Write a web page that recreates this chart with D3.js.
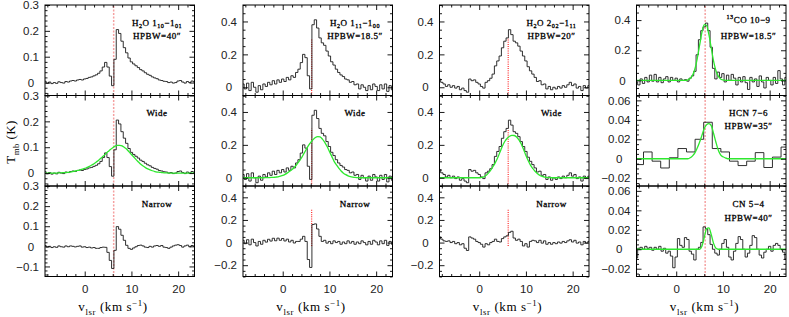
<!DOCTYPE html>
<html><head><meta charset="utf-8">
<script src="https://cdn.jsdelivr.net/npm/d3@7/dist/d3.min.js"></script>
<style>html,body{margin:0;padding:0;background:#fff;} svg{display:block;}</style>
</head><body>
<svg id="chart" width="789" height="317"></svg>
<script>
// ================= DATA =================
// channel velocities (km/s)
const vel = [-8.5,-8,-7.5,-7,-6.5,-6,-5.5,-5,-4.5,-4,
 -3.5,-3,-2.5,-2,-1.5,-1,-0.5,0,0.5,1,
 1.5,2,2.5,3,3.5,4,4.5,5,5.5,6,
 6.5,7,7.5,8,8.5,9,9.5,10,10.5,11,
 11.5,12,12.5,13,13.5,14,14.5,15,15.5,16,
 16.5,17,17.5,18,18.5,19,19.5,20,20.5,21,
 21.5,22,22.5,23,23.5];

// H2O 1_10-1_01 observed, wide-component fit, narrow residual
const h2o557 = [0.005,-0.003,0.002,-0.004,0.0,-0.003,0.003,0.0,-0.002,0.004,
 0.002,0.006,0.008,0.006,0.01,0.012,0.01,0.014,0.016,0.02,
 0.022,0.026,0.03,0.036,0.045,0.06,0.078,0.06,0.025,-0.012,
 0.09,0.205,0.19,0.16,0.135,0.115,0.095,0.08,0.072,0.065,
 0.058,0.05,0.045,0.038,0.032,0.028,0.022,0.018,0.015,0.01,
 0.008,0.005,0.004,0.0,0.002,-0.002,0.0,0.006,0.008,0.002,
 -0.002,0.004,0.0,0.006,0.002];
const fit557 = [0,0,0,0,0,0,0.001,0.001,0.002,0.002,
 0.003,0.004,0.006,0.008,0.01,0.012,0.015,0.018,0.022,0.026,
 0.031,0.036,0.043,0.05,0.058,0.066,0.075,0.083,0.091,0.098,
 0.104,0.107,0.107,0.105,0.099,0.092,0.082,0.072,0.062,0.052,
 0.043,0.034,0.027,0.021,0.016,0.012,0.009,0.006,0.004,0.003,
 0.002,0.001,0.001,0,0,0,0,0,0,0,
 0,0,0,0,0];
const nar557 = [0.004,-0.004,0.0,-0.006,-0.002,-0.005,0.002,-0.002,-0.004,0.002,
 -0.002,0.002,0.0,-0.003,0.0,0.002,-0.004,-0.002,-0.006,-0.004,
 -0.008,-0.006,-0.01,-0.01,-0.006,-0.004,-0.005,-0.03,-0.07,-0.11,
 -0.02,0.098,0.085,0.055,0.03,0.005,-0.01,-0.015,-0.008,-0.002,
 0.004,0.006,0.002,-0.004,-0.006,0.0,-0.004,0.002,0.004,0.0,
 0.004,-0.004,-0.006,-0.01,-0.004,0.002,0.006,0.008,0.004,-0.004,
 0.002,0.006,-0.002,0.004,0.0];

// H2O 1_11-0_00
const h2o1113 = [0.02,-0.01,0.025,-0.02,0.03,0.0,-0.03,0.01,-0.015,0.02,
 0.005,0.03,0.015,0.04,0.02,0.045,0.03,0.05,0.035,0.06,
 0.045,0.07,0.06,0.09,0.11,0.15,0.2,0.18,0.07,-0.01,
 0.38,0.41,0.36,0.3,0.27,0.255,0.22,0.19,0.155,0.135,
 0.11,0.09,0.075,0.065,0.05,0.045,0.03,0.035,0.015,0.02,
 -0.01,0.015,0.0,-0.02,0.01,-0.015,0.02,0.005,-0.02,0.015,
 -0.01,0.02,-0.025,0.01,-0.015];
const fit1113 = [0,0,0,0,0,0,0,0,0,0,
 0.001,0.001,0.002,0.002,0.004,0.006,0.01,0.014,0.021,0.03,
 0.04,0.05,0.064,0.08,0.1,0.12,0.145,0.17,0.195,0.215,
 0.232,0.245,0.25,0.248,0.235,0.215,0.19,0.16,0.13,0.1,
 0.078,0.058,0.041,0.028,0.019,0.012,0.007,0.004,0.002,0.001,
 0,0,0,0,0,0,0,0,0,0,
 0,0,0,0,0];
const nar1113 = [0.02,-0.01,0.025,-0.02,0.03,0.0,-0.03,0.01,-0.015,0.02,
 0.004,0.029,0.013,0.038,0.016,0.039,0.02,0.036,0.014,0.03,
 0.005,0.02,-0.004,0.01,0.01,0.03,0.055,0.01,-0.15,-0.22,
 0.16,0.165,0.12,0.055,0.01,0.02,-0.005,0.01,-0.01,0.015,
 0.0,0.01,-0.015,0.005,-0.01,0.015,-0.005,0.01,-0.015,0.005,
 -0.01,0.015,0.0,-0.02,0.01,-0.015,0.02,0.005,-0.02,0.015,
 -0.01,0.02,-0.025,0.01,-0.015];

// H2O 2_02-1_11
const h2o988 = [0.05,0.03,0.02,0.005,0.015,0.0,0.01,-0.005,0.005,-0.015,
 -0.005,-0.02,-0.03,0.05,0.04,0.045,0.03,0.02,0.005,-0.005,
 0.03,0.04,0.055,0.08,0.13,0.16,0.19,0.24,0.28,0.3,
 0.35,0.32,0.28,0.27,0.25,0.22,0.19,0.16,0.125,0.1,
 0.08,0.06,0.035,0.04,0.015,0.02,-0.01,0.005,-0.015,0.0,
 -0.01,0.005,-0.005,0.01,0.0,0.015,0.03,0.01,0.02,-0.005,
 0.005,-0.02,0.01,-0.005,0.01];
const fit988 = [0,0,0,0,0,0,0,0,0,0,
 0,0,0,0,0,0,0,0,0.002,0.005,
 0.015,0.03,0.048,0.07,0.095,0.125,0.16,0.195,0.222,0.24,
 0.252,0.258,0.257,0.248,0.23,0.205,0.172,0.135,0.103,0.075,
 0.055,0.038,0.024,0.014,0.008,0.004,0.002,0.001,0,0,
 0,0,0,0,0,0,0,0,0,0,
 0,0,0,0,0];
const nar988 = [0.05,0.03,0.015,0.01,0.015,0.0,0.01,-0.01,0.0,-0.02,
 -0.01,-0.05,-0.07,0.05,0.04,0.03,0.01,0.0,-0.015,-0.04,
 -0.01,-0.02,0.0,0.01,0.03,0.01,0.005,0.035,0.05,0.06,
 0.09,0.1,0.04,0.02,0.03,0.01,-0.03,-0.01,-0.04,0.01,
 0.02,0.015,0.0,0.02,-0.005,0.015,-0.015,0.0,-0.015,0.0,
 -0.01,0.005,-0.005,0.01,0.0,0.015,0.025,0.005,0.02,-0.005,
 0.005,-0.02,0.01,-0.005,0.01];

// 13CO 10-9
const co13 = [-0.01,-0.03,0.01,-0.02,0.02,-0.01,0.035,-0.005,0.04,-0.01,
 0.02,-0.015,0.01,0.025,-0.01,0.02,0.0,0.015,-0.01,0.01,
 0.0,0.005,-0.005,0.015,0.03,0.06,0.17,0.27,0.33,0.355,
 0.38,0.33,0.22,0.08,0.01,0.055,0.02,0.045,-0.01,0.035,
 0.0,0.04,0.015,-0.03,0.02,-0.01,0.025,-0.015,-0.06,0.02,
 -0.01,0.01,-0.04,0.03,-0.01,-0.05,0.02,0.0,-0.03,0.02,
 -0.02,0.065,0.01,-0.03,0.02];
const fit13co = [0,0,0,0,0,0,0,0,0,0,
 0,0,0,0,0,0,0,0,0,0,
 0,0,0.004,0.013,0.034,0.076,0.145,0.232,0.318,0.37,
 0.364,0.303,0.215,0.128,0.065,0.028,0.01,0.003,0,0,
 0,0,0,0,0,0,0,0,0,0,
 0,0,0,0,0,0,0,0,0,0,
 0,0,0,0,0];

// HCN 7-6 (coarse channels)
const hcnVel = [-7.92,-6.08,-4.24,-2.4,-0.56,1.28,3.12,4.96,6.8,8.64,10.48,12.32,14.16,16.0,17.84,19.68,21.52,23.36];
const hcn = [-0.006,0.007,-0.0025,-0.0095,0.001,0.0105,0.007,0.020,0.0375,0.0105,0.007,-0.0025,-0.007,-0.0025,0.0063,-0.009,0.0017,0.012];
const fitHCN = [0,0,0,0,0,0,0,0,0,0,
 0,0,0,0,0,0,0,0,0,0,
 0,0,0,0.001,0.003,0.006,0.011,0.017,0.024,0.031,
 0.035,0.036,0.034,0.026,0.017,0.009,0.004,0.002,0.001,0,
 0,0,0,0,0,0,0,0,0,0,
 0,0,0,0,0,0,0,0,0,0,
 0,0,0,0,0];

// CN 5-4
const cn54 = [-0.009,0.001,0.002,0.0,0.003,0.001,0.002,-0.001,0.002,0.0,
 0.003,-0.002,0.001,-0.004,-0.002,-0.007,-0.019,-0.008,0.011,0.004,
 0.002,0.012,0.01,-0.002,-0.005,-0.011,0.0,0.002,0.007,0.023,
 0.021,0.015,0.005,0.0,-0.004,-0.006,0.0,0.006,0.01,0.002,
 -0.008,-0.011,-0.002,0.006,0.013,0.01,0.0,-0.008,-0.004,0.004,
 0.014,0.012,0.0,-0.006,-0.009,-0.003,0.0,0.003,-0.002,0.004,
 0.006,0.004,0.0,-0.003,-0.01];
const fitCN = [0,0,0,0,0,0,0,0,0,0,
 0,0,0,0,0,0,0,0,0,0,
 0,0,0,0,0,0,0,0,0.003,0.012,
 0.021,0.022,0.015,0.006,0.001,0,0,0,0,0,
 0,0,0,0,0,0,0,0,0,0,
 0,0,0,0,0,0,0,0,0,0,
 0,0,0,0,0];

const xTickLabels = [0, 10, 20];
const vSys = 6.2;

// ================= LAYOUT =================
const colLeft = [45, 243, 439.5, 636.5];
const panelW = 149.5;
const rowTop = [5, 95.5, 186];
const panelH = 90.5;
const xDomain = [-8.5, 23.5];
const sans = "'Liberation Sans', Arial, sans-serif";
const serif = "'Liberation Serif', 'Times New Roman', serif";

[h2o557,fit557,nar557,h2o1113,fit1113,nar1113,h2o988,fit988,nar988,co13,fit13co,fitHCN,cn54,fitCN].forEach((a,i)=>{
  if (a.length !== vel.length) throw new Error("length mismatch in array " + i + ": " + a.length);
});

const T = s => ({t:s});
const SUB = s => ({t:s, sub:true});
const SUP = s => ({t:s, sup:true});

const specs = [
 {c:0,r:0, v:vel, y:h2o557, yd:[-0.05,0.3], maj:0.1, mn:0.02, red:null, redStyle:"light",
  text:[{p:[T("H"),SUB("2"),T("O 1"),SUB("10"),T("\u22121"),SUB("01")], dy:20.5},{p:[T("HPBW=40\u2033")], dy:33.5}]},
 {c:0,r:1, v:vel, y:h2o557, fit:fit557, yd:[-0.05,0.3], maj:0.1, mn:0.02, red:null, redStyle:"light",
  text:[{p:[T("Wide")], dy:20.5}]},
 {c:0,r:2, v:vel, y:nar557, yd:[-0.15,0.3], maj:0.1, mn:0.02, red:null, redStyle:"light",
  text:[{p:[T("Narrow")], dy:20.5}]},
 {c:1,r:0, v:vel, y:h2o1113, yd:[-0.05,0.5], maj:0.2, mn:0.05, red:[-0.05,0.29], redStyle:"strong",
  text:[{p:[T("H"),SUB("2"),T("O 1"),SUB("11"),T("\u22121"),SUB("00")], dy:20.5},{p:[T("HPBW=18.5\u2033")], dy:33.5}]},
 {c:1,r:1, v:vel, y:h2o1113, fit:fit1113, yd:[-0.05,0.5], maj:0.2, mn:0.05, red:[-0.05,0.3], redStyle:"strong",
  text:[{p:[T("Wide")], dy:20.5}]},
 {c:1,r:2, v:vel, y:nar1113, yd:[-0.3,0.5], maj:0.2, mn:0.05, red:[-0.03,0.3], redStyle:"strong",
  text:[{p:[T("Narrow")], dy:20.5}]},
 {c:2,r:0, v:vel, y:h2o988, yd:[-0.05,0.5], maj:0.2, mn:0.05, red:[-0.05,0.3], redStyle:"strong",
  text:[{p:[T("H"),SUB("2"),T("O 2"),SUB("02"),T("\u22121"),SUB("11")], dy:20.5},{p:[T("HPBW=20\u2033")], dy:33.5}]},
 {c:2,r:1, v:vel, y:h2o988, fit:fit988, yd:[-0.05,0.5], maj:0.2, mn:0.05, red:[-0.05,0.3], redStyle:"strong",
  text:[{p:[T("Wide")], dy:20.5}]},
 {c:2,r:2, v:vel, y:nar988, yd:[-0.3,0.5], maj:0.2, mn:0.05, red:[-0.03,0.3], redStyle:"strong",
  text:[{p:[T("Narrow")], dy:20.5}]},
 {c:3,r:0, v:vel, y:co13, fit:fit13co, yd:[-0.1,0.5], maj:0.2, mn:0.05, red:null, redStyle:"light",
  text:[{p:[SUP("13"),T("CO 10\u22129")], dy:17.5},{p:[T("HPBW=18.5\u2033")], dy:33.5}]},
 {c:3,r:1, v:hcnVel, y:hcn, fit:fitHCN, yd:[-0.028,0.065], maj:0.02, mn:0.005, red:null, redStyle:"light",
  text:[{p:[T("HCN 7\u22126")], dy:20.5},{p:[T("HPBW=35\u2033")], dy:33.5}]},
 {c:3,r:2, v:vel, y:cn54, fit:fitCN, yd:[-0.028,0.065], maj:0.02, mn:0.005, red:null, redStyle:"light",
  text:[{p:[T("CN 5\u22124")], dy:20.5},{p:[T("HPBW=40\u2033")], dy:34.5}]}
];

const svg = d3.select("#chart");

function ticksFor(domain, step) {
  const a = Math.ceil(domain[0]/step - 1e-6), b = Math.floor(domain[1]/step + 1e-6);
  return d3.range(a, b+1).map(k => +(k*step).toFixed(6));
}
function fmt(v) {
  if (Math.abs(v) < 1e-9) return "0";
  return (v < 0 ? "\u2212" : "") + String(+Math.abs(v).toFixed(4));
}
function measure(str, size, family) {
  const t = svg.append("text").attr("font-size", size).attr("font-family", family).text(str);
  const w = t.node().getComputedTextLength(); t.remove(); return w;
}
function stepPoints(vs, ys) {
  const pts = [];
  for (let i = 0; i < vs.length; i++) {
    const l = i === 0 ? vs[0] - (vs[1]-vs[0])/2 : (vs[i-1]+vs[i])/2;
    const r = i === vs.length-1 ? vs[i] + (vs[i]-vs[i-1])/2 : (vs[i]+vs[i+1])/2;
    pts.push([l, ys[i]], [r, ys[i]]);
  }
  return pts;
}
function rich(g, x, y, parts, size, family, weight, anchor, ls, sw) {
  const t = g.append("text").attr("x", x).attr("y", y).attr("text-anchor", anchor || "middle")
    .attr("font-family", family).attr("font-size", size).attr("font-weight", weight || "normal")
    .attr("letter-spacing", ls || 0).attr("fill", "#000");
  if (sw) t.attr("stroke", "#000").attr("stroke-width", sw);
  let shift = 0;
  parts.forEach(p => {
    const target = p.sub ? size*0.32 : p.sup ? -size*0.42 : 0;
    const ts = t.append("tspan").text(p.t).attr("dy", target - shift);
    if (p.sub || p.sup) ts.attr("font-size", size*0.68);
    shift = target;
  });
  return t;
}

const tickFont = 11.5;

specs.forEach((s, idx) => {
  const g = svg.append("g").attr("transform", `translate(${colLeft[s.c]},${rowTop[s.r]})`);
  const x = d3.scaleLinear(xDomain, [0, panelW]);
  const y = d3.scaleLinear(s.yd, [panelH, 0]);
  const cid = "clip" + idx;
  g.append("clipPath").attr("id", cid).append("rect").attr("width", panelW).attr("height", panelH);

  // red systemic velocity line
  const rr = s.red || s.yd;
  const redCol = s.redStyle === "light" ? "#f5a0a0" : "#ff1a1a";
  g.append("line").attr("x1", x(vSys)).attr("x2", x(vSys)).attr("y1", y(rr[0])).attr("y2", y(rr[1]))
    .attr("stroke", redCol).attr("stroke-width", s.redStyle === "light" ? 1.5 : 1.1)
    .attr("stroke-dasharray", s.redStyle === "light" ? "2,1.5" : "1,1.2").attr("clip-path", `url(#${cid})`);

  // spectrum as histogram
  const line = d3.line().x(d => x(d[0])).y(d => y(d[1]));
  g.append("path").attr("d", line(stepPoints(s.v, s.y))).attr("fill", "none")
    .attr("stroke", "#1a1a1a").attr("stroke-width", 0.9).attr("clip-path", `url(#${cid})`);

  // gaussian fit
  if (s.fit) {
    const fl = d3.line().x((d,i) => x(vel[i])).y(d => y(d)).curve(d3.curveMonotoneX);
    g.append("path").attr("d", fl(s.fit)).attr("fill", "none")
      .attr("stroke", "#2ee82e").attr("stroke-width", 1.3).attr("clip-path", `url(#${cid})`);
  }

  // axes
  const majY = ticksFor(s.yd, s.maj), minY = ticksFor(s.yd, s.mn).filter(v => !majY.some(m => Math.abs(m-v) < 1e-9));
  const majX = ticksFor(xDomain, 10), minX = ticksFor(xDomain, 2).filter(v => !majX.includes(v));
  const styleAx = sel => { sel.select(".domain").remove(); sel.selectAll("line").attr("stroke", "#000").attr("stroke-width", 0.9); };

  g.append("g").call(d3.axisLeft(y).tickValues(minY).tickSize(-2.5).tickFormat("")).call(styleAx);
  g.append("g").attr("transform", `translate(${panelW},0)`).call(d3.axisRight(y).tickValues(minY).tickSize(-2.5).tickFormat("")).call(styleAx);
  g.append("g").attr("transform", `translate(${panelW},0)`).call(d3.axisRight(y).tickValues(majY).tickSize(-5).tickFormat("")).call(styleAx);
  const yl = g.append("g").call(d3.axisLeft(y).tickValues(majY).tickSize(-5).tickPadding(0).tickFormat(fmt)).call(styleAx);
  const labs = yl.selectAll("text").attr("font-family", sans).attr("font-size", tickFont).attr("fill", "#222");
  let maxW = 0;
  majY.forEach(v => { maxW = Math.max(maxW, measure(fmt(Math.abs(v)), tickFont, sans)); });
  labs.each(function(d) {
    const w = measure(fmt(Math.abs(d)), tickFont, sans);
    d3.select(this).attr("text-anchor", "end").attr("x", -6 - (maxW - w)/2);
  });

  g.append("g").call(d3.axisTop(x).tickValues(minX).tickSize(-2.5).tickFormat("")).call(styleAx);
  g.append("g").call(d3.axisTop(x).tickValues(majX).tickSize(-5).tickFormat("")).call(styleAx);
  g.append("g").attr("transform", `translate(0,${panelH})`).call(d3.axisBottom(x).tickValues(minX).tickSize(-2.5).tickFormat("")).call(styleAx);
  const xb = g.append("g").attr("transform", `translate(0,${panelH})`)
    .call(d3.axisBottom(x).tickValues(majX).tickSize(-5).tickPadding(8).tickFormat(s.r === 2 ? (d => xTickLabels.includes(d) ? fmt(d) : "") : ""))
    .call(styleAx);
  xb.selectAll("text").attr("font-family", sans).attr("font-size", tickFont).attr("fill", "#222");

  // frame
  g.append("rect").attr("width", panelW).attr("height", panelH).attr("fill", "none").attr("stroke", "#000").attr("stroke-width", 1);

  // annotations
  s.text.forEach(tx => rich(g, 112, tx.dy, tx.p, 9, serif, "normal", "middle", 0.5, 0.3));
});

// axis titles
colLeft.forEach(l => {
  rich(svg, l + 68, 311, [T("v"), SUB("lsr"), T(" (km  s"), SUP("\u22121"), T(")")], 13, serif, "normal", "middle", 0.6);
});
const yt = svg.append("g").attr("transform", "translate(15,142) rotate(-90)");
rich(yt, 0, 0, [T("T"), SUB("mb"), T(" (K)")], 13, serif, "normal", "middle", 0.4);
</script>
</body></html>
